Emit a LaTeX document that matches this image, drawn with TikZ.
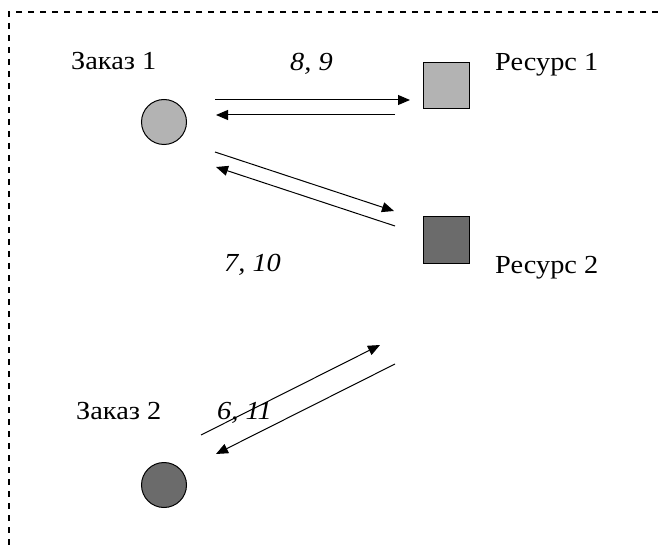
\documentclass[tikz,border=0pt]{standalone}
\usepackage{fontspec}
\setmainfont{Liberation Serif}
\newfontfamily\lblfont{Liberation Serif}[FakeStretch=1.09]
\usetikzlibrary{arrows.meta}
\begin{document}
\begin{tikzpicture}[x=1pt,y=-1pt,
  lbl/.style={inner sep=0pt,anchor=base west,font=\lblfont\fontsize{26}{30}\selectfont},
  num/.style={lbl,font=\lblfont\fontsize{26}{30}\selectfont\itshape},
  order/.style={circle,draw=black,line width=1pt,minimum size=45pt,inner sep=0pt},
  res/.style={rectangle,draw=black,line width=1pt,minimum size=46pt,inner sep=0pt},
  conn/.style={line width=1pt,-{Triangle[length=12pt,width=10pt]}},
  frame/.style={line width=1.3pt,dash pattern=on 6pt off 6pt}]
\useasboundingbox (0,0) rectangle (658,545);
\fill[white] (0,0) rectangle (658,545);
% frame
\coordinate (fc) at (9,12);
\coordinate (fr) at (658,12);
\coordinate (fb) at (9,545);
\draw[frame] (fr) -- (fc) -- (fb);
% shapes
\node[order,fill={rgb,255:red,179;green,179;blue,179}] (z1) at (164,122) {};
\node[order,fill={rgb,255:red,107;green,107;blue,107}] (z2) at (164,485) {};
\node[res,fill={rgb,255:red,179;green,179;blue,179}] (r1) at (446,86) {};
\node[res,fill={rgb,255:red,107;green,107;blue,107}] (r2) at (446,240) {};
% labels
\node[lbl] (tz1) at (71,70) {Заказ 1};
\node[lbl] (tz2) at (76,419) {Заказ 2};
\node[lbl] (tr1) at (495,71) {Ресурс 1};
\node[lbl] (tr2) at (495,273) {Ресурс 2};
\node[num] (n89) at (290,71) {8, 9};
\node[num] (n710) at (224,272) {7, 10};
\node[num] (n611) at (217,419) {6, 11};
% arrow ends
\coordinate (a1s) at (215,100); \coordinate (a1e) at (410,100);
\coordinate (a2s) at (395,115); \coordinate (a2e) at (216,115);
\coordinate (a3s) at (215,152); \coordinate (a3e) at (394,211);
\coordinate (a4s) at (395,226); \coordinate (a4e) at (216,167);
\coordinate (a5s) at (201,435); \coordinate (a5e) at (380,345);
\coordinate (a6s) at (395,364); \coordinate (a6e) at (216,454);
\draw[conn] (a1s) -- (a1e);
\draw[conn] (a2s) -- (a2e);
\draw[conn] (a3s) -- (a3e);
\draw[conn] (a4s) -- (a4e);
\draw[conn] (a5s) -- (a5e);
\draw[conn] (a6s) -- (a6e);
\end{tikzpicture}
\end{document}
